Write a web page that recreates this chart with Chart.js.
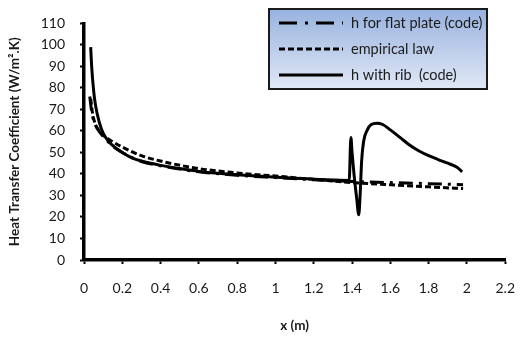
<!DOCTYPE html>
<html>
<head>
<meta charset="utf-8">
<script src="https://cdn.jsdelivr.net/npm/chart.js@4"></script>
<style>
  html, body { margin: 0; padding: 0; background: #fff; }
  #wrap { width: 531px; height: 337px; }
</style>
</head>
<body>
<div id="wrap"><canvas id="chart" width="531" height="337"></canvas></div>
<script>
// values
const flatX = [0.03, 0.04, 0.05, 0.07, 0.1, 0.15, 0.2, 0.3, 0.4, 0.6, 0.8, 1.0, 1.2, 1.4, 1.6, 1.8, 1.98];
const flatH = [76, 69, 65, 61, 57.5, 53, 50, 45.8, 43.8, 41, 39.4, 38.3, 37.3, 36.5, 36, 35.5, 35];

const empX = [0.035, 0.045, 0.06, 0.08, 0.1, 0.15, 0.2, 0.3, 0.4, 0.6, 0.8, 1.0, 1.2, 1.4, 1.6, 1.8, 1.98];
const empH = [75, 68, 63, 60, 58, 55, 52.5, 48.5, 46, 42.5, 40.5, 39, 37.5, 36, 35, 34, 33.2];

const ribX = [0.035, 0.04, 0.05, 0.06, 0.08, 0.1, 0.13, 0.16, 0.2, 0.25, 0.3, 0.4, 0.5, 0.6, 0.7, 0.8, 0.9, 1.0, 1.1, 1.2, 1.3, 1.385,
              1.394, 1.4, 1.41, 1.425, 1.435, 1.442, 1.45, 1.46, 1.48, 1.5, 1.53, 1.56, 1.6, 1.65, 1.7, 1.75, 1.8, 1.85, 1.9, 1.95, 1.975];
const ribH = [99, 90, 79, 72, 64, 59, 55, 52.5, 50, 47.5, 46, 44, 42.5, 41.2, 40.3, 39.6, 39, 38.5, 38, 37.6, 37.2, 37,
              57, 50, 40, 28, 21, 30, 46, 55, 60.5, 63, 63.6, 63, 60.5, 57, 53.5, 50.7, 48.5, 46.7, 45, 43, 41];

const seriesLabels = ["h for flat plate (code)", "empirical law", "h with rib  (code)"];
const xTicksMax = 2.2, yTicksMax = 110;

function pts(xs, ys) {
    return xs.map((x, i) => ({ x: x, y: ys[i] }));
}

const FONT = "Lato, 'Open Sans', sans-serif";

// boxed legend with a blue gradient, drawn on top of the plot
const boxLegend = {
    id: "boxLegend",
    afterDraw(chart) {
        const ctx = chart.ctx;
        const x0 = 269, y0 = 9, w = 218, h = 80;
        ctx.save();
        const g = ctx.createLinearGradient(0, y0, 0, y0 + h);
        g.addColorStop(0, "#98b2df");
        g.addColorStop(1, "#e0e8f5");
        ctx.fillStyle = g;
        ctx.fillRect(x0, y0, w, h);
        ctx.lineWidth = 2;
        ctx.strokeStyle = "#1a1a1a";
        ctx.strokeRect(x0, y0, w, h);

        const legendDash = [[18, 8, 3, 8], [6, 3], []];
        chart.data.datasets.forEach((ds, i) => {
            const y = y0 + 14 + i * 26;
            ctx.beginPath();
            ctx.setLineDash(legendDash[i]);
            ctx.lineWidth = 3;
            ctx.strokeStyle = "#000";
            ctx.moveTo(279, y);
            ctx.lineTo(343, y);
            ctx.stroke();
            ctx.setLineDash([]);
            ctx.fillStyle = "#1a1a1a";
            ctx.font = "14.5px " + FONT;
            ctx.textBaseline = "middle";
            ctx.fillText(ds.label, 351, y);
        });
        ctx.restore();
    }
};

new Chart(document.getElementById("chart"), {
    type: "line",
    data: {
        datasets: [
            { label: seriesLabels[0], data: pts(flatX, flatH), borderColor: "#000", borderWidth: 3, borderDash: [14, 6, 3, 6], order: 2 },
            { label: seriesLabels[1], data: pts(empX, empH), borderColor: "#000", borderWidth: 3, borderDash: [6, 3], order: 1 },
            { label: seriesLabels[2], data: pts(ribX, ribH), borderColor: "#000", borderWidth: 3, order: 0 }
        ]
    },
    options: {
        responsive: false,
        animation: false,
        layout: { padding: { top: 19, right: 11, left: 0, bottom: 0 } },
        elements: {
            point: { radius: 0 },
            line: { cubicInterpolationMode: "monotone", borderCapStyle: "butt" }
        },
        plugins: { legend: { display: false }, tooltip: { enabled: false } },
        scales: {
            x: {
                type: "linear",
                min: 0,
                max: xTicksMax,
                afterFit: s => { s.height = 77; },
                ticks: {
                    stepSize: 0.2,
                    padding: 16,
                    color: "#1a1a1a",
                    font: { family: FONT, size: 14 },
                    maxRotation: 0,
                    callback: v => String(Number(v.toFixed(1)))
                },
                grid: { drawOnChartArea: false, drawTicks: true, tickLength: 4, tickWidth: 2, tickColor: "#000" },
                border: { display: true, color: "#000", width: 3.5 },
                title: {
                    display: true,
                    text: "x (m)",
                    color: "#1a1a1a",
                    font: { family: FONT, size: 13.5, weight: "bold" },
                    padding: { bottom: 3 }
                }
            },
            y: {
                min: 0,
                max: yTicksMax,
                afterFit: s => { s.width = 84; },
                ticks: {
                    stepSize: 10,
                    padding: 15,
                    color: "#1a1a1a",
                    font: { family: FONT, size: 14 }
                },
                grid: { drawOnChartArea: false, drawTicks: true, tickLength: 4, tickWidth: 2, tickColor: "#000" },
                border: { display: true, color: "#000", width: 3.5 },
                title: {
                    display: true,
                    text: "Heat Transfer Coefficient (W/m².K)",
                    color: "#1a1a1a",
                    font: { family: FONT, size: 13.5, weight: "bold" },
                    padding: { top: 7 }
                }
            }
        }
    },
    plugins: [boxLegend]
});
</script>
</body>
</html>
